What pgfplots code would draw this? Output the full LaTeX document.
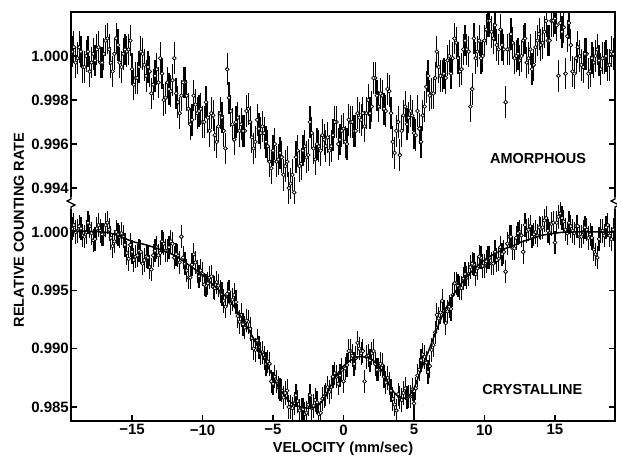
\documentclass[border=0pt]{standalone}
\usepackage{fontspec}
\setmainfont{Liberation Sans}
\usepackage{pgfplots}
\pgfplotsset{compat=1.18}
\pgfplotsset{
  myaxis/.style={
    scale only axis, width=544pt, xmin=-19.33, xmax=19.26,
    axis line style={draw=none},
    tick align=inside, major tick length=6pt,
    every tick/.style={black, line width=1.2pt},
    tick label style={font=\bfseries\fontsize{15}{18}\selectfont},
    /pgf/number format/assume math mode=true,
    yticklabel style={/pgf/number format/fixed, /pgf/number format/precision=3, /pgf/number format/fixed zerofill, inner sep=2pt},
    scaled y ticks=false,
    clip mode=individual,
    ytick pos=both,
  },
  mypts/.style={only marks, mark=*, mark size=1.9pt,
    mark options={fill=white, draw=black, line width=0.75pt}},
  topbars/.style={mypts, error bars/.cd, y dir=both, y fixed=0.00072, error mark=none,
    error bar style={line width=1.2pt, black}},
  botbars/.style={mypts, error bars/.cd, y dir=both, y fixed=0.00100, error mark=none,
    error bar style={line width=1.2pt, black}},
}
\begin{document}
\begin{tikzpicture}
\path[use as bounding box] (0pt,0pt) rectangle (617pt,456pt);
% ---------------- top panel: amorphous ----------------
\begin{axis}[myaxis, at={(71pt,253pt)}, anchor=south west, height=191pt,
  ymin=0.99332, ymax=1.0020, ytick={0.994,0.996,0.998,1.000}, xtick=\empty]
\addplot+[topbars] table {
x y
-19.25 1.0002
-19.00 0.9997
-18.75 1.0004
-18.50 0.9995
-18.25 1.0000
-18.00 0.9993
-17.75 1.0001
-17.50 1.0003
-17.25 0.9997
-17.00 1.0001
-16.75 1.0008
-16.50 0.9997
-16.25 1.0001
-16.00 1.0005
-15.75 0.9995
-15.50 1.0003
-15.25 1.0003
-15.00 0.9994
-14.75 0.9990
-14.50 0.9995
-14.25 1.0001
-14.00 0.9991
-13.75 0.9993
-13.50 0.9987
-13.25 0.9994
-13.00 0.9999
-12.75 0.9980
-12.50 0.9988
-12.25 0.9984
-12.00 0.9999
-11.75 0.9979
-11.50 0.9982
-11.25 0.9988
-11.00 0.9976
-10.75 0.9971
-10.50 0.9978
-10.25 0.9975
-10.00 0.9970
-9.75 0.9979
-9.50 0.9966
-9.25 0.9973
-9.00 0.9961
-8.75 0.9974
-8.50 0.9966
-8.25 0.9994
-8.00 0.9975
-7.75 0.9962
-7.50 0.9972
-7.25 0.9969
-7.00 0.9966
-6.75 0.9976
-6.50 0.9963
-6.25 0.9961
-6.00 0.9967
-5.75 0.9968
-5.50 0.9961
-5.25 0.9952
-5.00 0.9957
-4.75 0.9952
-4.50 0.9956
-4.25 0.9946
-4.00 0.9952
-3.75 0.9942
-3.50 0.9938
-3.25 0.9957
-3.00 0.9951
-2.75 0.9959
-2.50 0.9955
-2.25 0.9965
-2.00 0.9953
-1.75 0.9959
-1.50 0.9964
-1.25 0.9959
-1.00 0.9957
-0.75 0.9964
-0.50 0.9970
-0.25 0.9962
0.00 0.9967
0.25 0.9960
0.50 0.9970
0.75 0.9966
1.00 0.9974
1.25 0.9971
1.50 0.9968
1.75 0.9980
2.00 0.9977
2.25 0.9990
2.50 0.9977
2.75 0.9982
3.00 0.9975
3.25 0.9984
3.50 0.9961
3.75 0.9966
4.00 0.9955
4.25 0.9973
4.50 0.9969
4.75 0.9975
5.00 0.9965
5.25 0.9975
5.50 0.9961
5.75 0.9977
6.00 0.9991
6.25 0.9983
6.50 0.9990
6.75 0.9995
7.00 0.9991
7.25 0.9990
7.50 1.0000
7.75 0.9999
8.00 1.0006
8.25 0.9993
8.50 1.0003
8.75 1.0003
9.00 0.9977
9.25 1.0008
9.50 1.0002
9.75 0.9999
10.00 1.0007
10.25 1.0016
10.50 1.0011
10.75 1.0014
11.00 1.0003
11.25 1.0005
11.50 0.9979
11.75 1.0003
12.00 1.0006
12.25 1.0000
12.50 0.9998
12.75 1.0007
13.00 0.9997
13.25 1.0003
13.50 0.9996
13.75 1.0007
14.00 1.0005
14.25 1.0011
14.50 1.0007
14.75 1.0016
15.00 1.0017
15.25 0.9991
15.50 1.0011
15.75 0.9992
16.00 1.0015
16.25 0.9993
16.50 0.9999
16.75 1.0000
17.00 0.9995
17.25 1.0001
17.50 0.9993
17.75 0.9997
18.00 1.0003
18.25 0.9994
18.50 0.9999
18.75 0.9996
19.00 1.0002
};
\addplot+[topbars] table {
x y
-19.125 1.0004
-18.875 0.9999
-18.625 1.0002
-18.375 0.9995
-18.125 1.0002
-17.875 0.9997
-17.625 0.9998
-17.375 1.0004
-17.125 0.9997
-16.875 1.0007
-16.625 1.0003
-16.375 0.9993
-16.125 1.0008
-15.875 0.9997
-15.625 1.0001
-15.375 1.0002
-15.125 1.0007
-14.875 0.9987
-14.625 0.9990
-14.375 1.0002
-14.125 0.9996
-13.875 0.9995
-13.625 0.9983
-13.375 0.9991
-13.125 0.9988
-12.875 0.9992
-12.625 0.9981
-12.375 0.9985
-12.125 0.9989
-11.875 0.9983
-11.625 0.9974
-11.375 0.9988
-11.125 0.9982
-10.875 0.9969
-10.625 0.9982
-10.375 0.9974
-10.125 0.9976
-9.875 0.9970
-9.625 0.9972
-9.375 0.9974
-9.125 0.9964
-8.875 0.9968
-8.625 0.9972
-8.375 0.9958
-8.125 0.9981
-7.875 0.9969
-7.625 0.9970
-7.375 0.9966
-7.125 0.9966
-6.875 0.9975
-6.625 0.9970
-6.375 0.9958
-6.125 0.9971
-5.875 0.9965
-5.625 0.9965
-5.375 0.9959
-5.125 0.9949
-4.875 0.9960
-4.625 0.9953
-4.375 0.9954
-4.125 0.9950
-3.875 0.9940
-3.625 0.9946
-3.375 0.9954
-3.125 0.9950
-2.875 0.9957
-2.625 0.9954
-2.375 0.9970
-2.125 0.9958
-1.875 0.9960
-1.625 0.9957
-1.375 0.9962
-1.125 0.9963
-0.875 0.9959
-0.625 0.9970
-0.375 0.9960
-0.125 0.9966
0.125 0.9961
0.375 0.9971
0.625 0.9970
0.875 0.9966
1.125 0.9972
1.375 0.9974
1.625 0.9974
1.875 0.9974
2.125 0.9990
2.375 0.9982
2.625 0.9983
2.875 0.9976
3.125 0.9985
3.375 0.9974
3.625 0.9956
3.875 0.9970
4.125 0.9966
4.375 0.9977
4.625 0.9972
4.875 0.9973
5.125 0.9964
5.375 0.9967
5.625 0.9973
5.875 0.9986
6.125 0.9982
6.375 0.9983
6.625 1.0002
6.875 0.9991
7.125 0.9992
7.375 0.9998
7.625 0.9992
7.875 1.0008
8.125 0.9999
8.375 0.9994
8.625 1.0007
8.875 1.0002
9.125 0.9985
9.375 0.9999
9.625 1.0007
9.875 1.0000
10.125 1.0012
10.375 1.0016
10.625 1.0008
10.875 1.0005
11.125 1.0012
11.375 1.0003
11.625 1.0003
11.875 1.0010
12.125 0.9999
12.375 1.0001
12.625 1.0000
12.875 1.0008
13.125 0.9999
13.375 0.9994
13.625 1.0004
13.875 1.0010
14.125 1.0006
14.375 1.0016
14.625 1.0007
14.875 1.0016
15.125 1.0014
15.375 1.0015
15.625 1.0013
15.875 1.0009
16.125 1.0005
16.375 0.9992
16.625 1.0004
16.875 0.9996
17.125 1.0001
17.375 0.9992
17.625 0.9999
17.875 1.0000
18.125 0.9998
18.375 0.9999
18.625 1.0000
18.875 0.9996
19.125 1.0001
};
\draw[line width=1.2pt] (rel axis cs:0,0) -- (rel axis cs:0,1) -- (rel axis cs:1,1) -- (rel axis cs:1,0);
\node[font=\bfseries\fontsize{14.5}{17}\selectfont] at (axis cs:13.8,0.99536) {AMORPHOUS};
\end{axis}
% ---------------- bottom panel: crystalline ----------------
\begin{axis}[myaxis, at={(71pt,35pt)}, anchor=south west, height=218pt,
  ymin=0.9838, ymax=1.00249, ytick={0.985,0.990,0.995,1.000},
  xtick={-15,-10,-5,0,5,10,15}, xticklabels={−15,−10,−5,0,5,10,15}, xtick pos=bottom]
\addplot+[botbars] table {
x y
-19.25 1.0003
-19.00 1.0000
-18.75 1.0005
-18.50 0.9997
-18.25 1.0000
-18.00 1.0005
-17.75 0.9993
-17.50 1.0003
-17.25 1.0001
-17.00 0.9998
-16.75 1.0008
-16.50 0.9995
-16.25 0.9992
-16.00 0.9998
-15.75 0.9999
-15.50 0.9989
-15.25 0.9977
-15.00 0.9983
-14.75 0.9979
-14.50 0.9984
-14.25 0.9973
-14.00 0.9979
-13.75 0.9970
-13.50 0.9980
-13.25 0.9987
-13.00 0.9982
-12.75 0.9990
-12.50 0.9984
-12.25 0.9992
-12.00 0.9978
-11.75 0.9980
-11.50 0.9996
-11.25 0.9973
-11.00 0.9961
-10.75 0.9972
-10.50 0.9974
-10.25 0.9962
-10.00 0.9964
-9.75 0.9954
-9.50 0.9961
-9.25 0.9953
-9.00 0.9957
-8.75 0.9949
-8.50 0.9941
-8.25 0.9947
-8.00 0.9939
-7.75 0.9946
-7.50 0.9928
-7.25 0.9929
-7.00 0.9918
-6.75 0.9923
-6.50 0.9909
-6.25 0.9899
-6.00 0.9901
-5.75 0.9897
-5.50 0.9887
-5.25 0.9887
-5.00 0.9870
-4.75 0.9872
-4.50 0.9865
-4.25 0.9858
-4.00 0.9864
-3.75 0.9850
-3.50 0.9853
-3.25 0.9855
-3.00 0.9848
-2.75 0.9844
-2.50 0.9852
-2.25 0.9849
-2.00 0.9856
-1.75 0.9844
-1.50 0.9857
-1.25 0.9861
-1.00 0.9863
-0.75 0.9876
-0.50 0.9876
-0.25 0.9877
0.00 0.9872
0.25 0.9886
0.50 0.9898
0.75 0.9887
1.00 0.9905
1.25 0.9896
1.50 0.9872
1.75 0.9894
2.00 0.9896
2.25 0.9887
2.50 0.9882
2.75 0.9886
3.00 0.9871
3.25 0.9870
3.50 0.9857
3.75 0.9847
4.00 0.9858
4.25 0.9862
4.50 0.9858
4.75 0.9859
5.00 0.9853
5.25 0.9877
5.50 0.9890
5.75 0.9893
6.00 0.9880
6.25 0.9899
6.50 0.9914
6.75 0.9926
7.00 0.9941
7.25 0.9922
7.50 0.9936
7.75 0.9946
8.00 0.9956
8.25 0.9952
8.50 0.9960
8.75 0.9961
9.00 0.9970
9.25 0.9972
9.50 0.9969
9.75 0.9978
10.00 0.9971
10.25 0.9978
10.50 0.9973
10.75 0.9983
11.00 0.9977
11.25 0.9981
11.50 0.9966
11.75 0.9996
12.00 0.9986
12.25 0.9995
12.50 1.0000
12.75 0.9983
13.00 1.0001
13.25 1.0005
13.50 0.9998
13.75 0.9997
14.00 1.0003
14.25 1.0010
14.50 1.0001
14.75 1.0007
15.00 0.9991
15.25 1.0013
15.50 1.0012
15.75 1.0002
16.00 1.0008
16.25 1.0001
16.50 1.0005
16.75 0.9996
17.00 1.0000
17.25 1.0002
17.50 0.9998
17.75 0.9985
18.00 0.9978
18.25 1.0001
18.50 0.9997
18.75 1.0006
19.00 0.9994
};
\addplot+[botbars] table {
x y
-19.125 1.0006
-18.875 1.0001
-18.625 1.0003
-18.375 0.9996
-18.125 1.0008
-17.875 0.9999
-17.625 0.9994
-17.375 1.0006
-17.125 0.9998
-16.875 1.0006
-16.625 1.0002
-16.375 0.9988
-16.125 1.0000
-15.875 0.9996
-15.625 0.9996
-15.375 0.9982
-15.125 0.9989
-14.875 0.9976
-14.625 0.9980
-14.375 0.9983
-14.125 0.9976
-13.875 0.9978
-13.625 0.9968
-13.375 0.9984
-13.125 0.9980
-12.875 0.9992
-12.625 0.9984
-12.375 0.9987
-12.125 0.9990
-11.875 0.9981
-11.625 0.9974
-11.375 0.9978
-11.125 0.9967
-10.875 0.9961
-10.625 0.9981
-10.375 0.9966
-10.125 0.9967
-9.875 0.9955
-9.625 0.9956
-9.375 0.9962
-9.125 0.9952
-8.875 0.9954
-8.625 0.9947
-8.375 0.9936
-8.125 0.9949
-7.875 0.9942
-7.625 0.9940
-7.375 0.9923
-7.125 0.9921
-6.875 0.9924
-6.625 0.9917
-6.375 0.9900
-6.125 0.9907
-5.875 0.9896
-5.625 0.9892
-5.375 0.9889
-5.125 0.9872
-4.875 0.9876
-4.625 0.9867
-4.375 0.9864
-4.125 0.9862
-3.875 0.9850
-3.625 0.9849
-3.375 0.9860
-3.125 0.9847
-2.875 0.9848
-2.625 0.9845
-2.375 0.9860
-2.125 0.9851
-1.875 0.9854
-1.625 0.9845
-1.375 0.9859
-1.125 0.9867
-0.875 0.9867
-0.625 0.9879
-0.375 0.9870
-0.125 0.9882
0.125 0.9883
0.375 0.9898
0.625 0.9894
0.875 0.9892
1.125 0.9900
1.375 0.9898
1.625 0.9893
1.875 0.9890
2.125 0.9898
2.375 0.9882
2.625 0.9887
2.875 0.9876
3.125 0.9875
3.375 0.9864
3.625 0.9852
3.875 0.9861
4.125 0.9856
4.375 0.9866
4.625 0.9859
4.875 0.9865
5.125 0.9866
5.375 0.9882
5.625 0.9895
5.875 0.9888
6.125 0.9885
6.375 0.9903
6.625 0.9929
6.875 0.9931
7.125 0.9932
7.375 0.9932
7.625 0.9934
7.875 0.9956
8.125 0.9954
8.375 0.9952
8.625 0.9964
8.875 0.9964
9.125 0.9973
9.375 0.9964
9.625 0.9979
9.875 0.9971
10.125 0.9975
10.375 0.9978
10.625 0.9973
10.875 0.9976
11.125 0.9987
11.375 0.9983
11.625 0.9990
11.875 0.9996
12.125 0.9986
12.375 0.9999
12.625 0.9997
12.875 1.0006
13.125 1.0002
13.375 0.9996
13.625 1.0000
13.875 1.0004
14.125 1.0004
14.375 1.0012
14.625 0.9999
14.875 1.0008
15.125 1.0008
15.375 1.0016
15.625 1.0009
15.875 0.9999
16.125 1.0005
16.375 0.9999
16.625 1.0005
16.875 0.9996
17.125 1.0004
17.375 0.9995
17.625 0.9995
17.875 0.9981
18.125 0.9994
18.375 1.0001
18.625 1.0004
18.875 0.9997
19.125 1.0002
};
\addplot[black, line width=1.5pt, smooth, no marks] coordinates {
(-19.3,1.0001) (-17,1.0000) (-16,0.9997) (-15,0.9992) (-14,0.9989) (-13,0.9985)
(-12,0.9980) (-11,0.9972) (-10,0.9963) (-9,0.9952) (-8,0.9940) (-7,0.9922)
(-6,0.9900) (-5,0.9876) (-4.5,0.9865) (-4,0.9857) (-3.5,0.9852) (-3,0.9850)
(-2.5,0.9849) (-2,0.9850) (-1.5,0.9855) (-1,0.9866) (-0.5,0.9877) (0,0.9885)
(0.5,0.9890) (1,0.9893) (1.5,0.9893) (2,0.9891) (2.5,0.9885) (3,0.9875)
(3.5,0.9864) (4,0.9858) (4.5,0.9858) (5,0.9866) (5.5,0.9882) (6,0.9897)
(6.5,0.9913) (7,0.9928) (7.5,0.9940) (8,0.9950) (8.5,0.9958) (9,0.9965)
(9.5,0.9971) (10,0.9976) (10.5,0.9980) (11,0.9983) (11.5,0.9986) (12,0.9988)
(12.5,0.9991) (13,0.9993) (13.5,0.9995) (14,0.9997) (15,0.9999) (16,1.0000)
(19.3,1.0000)
};
\draw[line width=1.2pt] (rel axis cs:0,1) -- (rel axis cs:0,0) -- (rel axis cs:1,0) -- (rel axis cs:1,1);
\node[font=\bfseries\fontsize{14.5}{17}\selectfont] at (axis cs:13.4,0.98654) {CRYSTALLINE};
\end{axis}
% axis breaks
\fill[white] (65pt,247pt) rectangle (77pt,259pt);
\draw[line width=1.2pt] (71pt,259pt) -- (71pt,257pt) -- (67pt,255pt) -- (75pt,251pt) -- (71pt,249pt) -- (71pt,247pt);
\fill[white] (609pt,247pt) rectangle (621pt,259pt);
\draw[line width=1.2pt] (615pt,259pt) -- (615pt,257pt) -- (611pt,255pt) -- (619pt,251pt) -- (615pt,249pt) -- (615pt,247pt);
% labels
\node[rotate=90, font=\bfseries\fontsize{14.5}{17}\selectfont] at (19pt,226pt) {RELATIVE COUNTING RATE};
\node[anchor=base, inner sep=0pt, font=\bfseries\fontsize{14.5}{17}\selectfont] at (343pt,4pt) {VELOCITY (mm/sec)};
\end{tikzpicture}
\end{document}
